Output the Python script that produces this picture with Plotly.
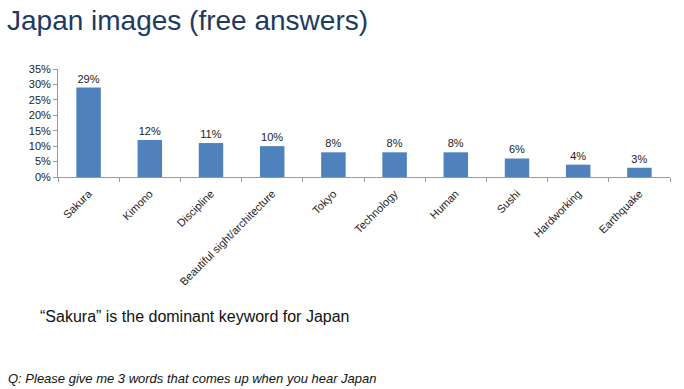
import plotly.graph_objects as go

categories = ["Sakura", "Kimono", "Discipline", "Beautiful sight/architecture", "Tokyo",
              "Technology", "Human", "Sushi", "Hardworking", "Earthquake"]
values = [0.29, 0.12, 0.11, 0.10, 0.08, 0.08, 0.08, 0.06, 0.04, 0.03]
value_labels = ["29%", "12%", "11%", "10%", "8%", "8%", "8%", "6%", "4%", "3%"]
y_ticks = [0, 0.05, 0.10, 0.15, 0.20, 0.25, 0.30, 0.35]
y_tick_labels = ["0%", "5%", "10%", "15%", "20%", "25%", "30%", "35%"]

FONT = "Liberation Sans, Arial, sans-serif"

fig = go.Figure(go.Bar(
    x=categories, y=values, text=value_labels, textposition="outside",
    textfont=dict(size=11, color="#222222", family=FONT),
    marker=dict(color="#4F81BD", line=dict(width=0)),
    cliponaxis=False,
))

fig.update_layout(
    width=684, height=389,
    margin=dict(l=58, r=14, t=69, b=212),
    paper_bgcolor="white", plot_bgcolor="white",
    bargap=0.6,
    showlegend=False,
    font=dict(family=FONT, size=11, color="#222222"),
)
fig.update_xaxes(
    showline=True, linecolor="#9a9a9a", linewidth=1,
    ticks="outside", tickson="boundaries", ticklen=4, tickcolor="#9a9a9a",
    tickangle=-45, tickfont=dict(size=11, color="#222222", family=FONT),
    ticklabelstandoff=5,
    showgrid=False,
)
fig.update_yaxes(
    range=[0, 0.35], tickvals=y_ticks, ticktext=y_tick_labels,
    showline=True, linecolor="#9a9a9a", linewidth=1,
    ticks="outside", ticklen=4, tickcolor="#9a9a9a",
    tickfont=dict(size=11, color="#222222", family=FONT),
    showgrid=False, zeroline=False,
)

fig.add_annotation(text="Japan images (free answers)", xref="paper", yref="paper",
                   x=(5-58)/612, y=1 + (69-20)/108, xanchor="left", yanchor="middle",
                   showarrow=False, font=dict(size=28, color="#1F3A5F", family=FONT))
fig.add_annotation(text="“Sakura” is the dominant keyword for Japan", xref="paper", yref="paper",
                   x=(38-58)/612, y=-(316-177)/108, xanchor="left", yanchor="middle",
                   showarrow=False, font=dict(size=16, color="#111111", family=FONT))
fig.add_annotation(text="<i>Q: Please give me 3 words that comes up when you hear Japan</i>",
                   xref="paper", yref="paper",
                   x=(6-58)/612, y=-(378-177)/108, xanchor="left", yanchor="middle",
                   showarrow=False, font=dict(size=13, color="#111111", family=FONT))

fig.write_html("out.html")
